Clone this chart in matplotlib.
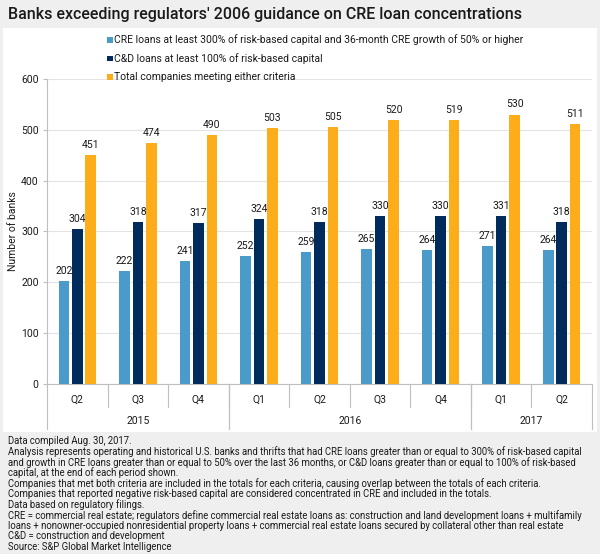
import matplotlib
matplotlib.use("Agg")
import matplotlib.pyplot as plt
from matplotlib.patches import Rectangle
import numpy as np

quarters = ["Q2", "Q3", "Q4", "Q1", "Q2", "Q3", "Q4", "Q1", "Q2"]
years = ["2015", "2016", "2017"]
year_spans = [(0, 3), (3, 7), (7, 9)]  # category index ranges per year

cre = [202, 222, 241, 252, 259, 265, 264, 271, 264]
cd = [304, 318, 317, 324, 318, 330, 330, 331, 318]
total = [451, 474, 490, 503, 505, 520, 519, 530, 511]

series_names = [
    "CRE loans at least 300% of risk-based capital and 36-month CRE growth of 50% or higher",
    "C&D loans at least 100% of risk-based capital",
    "Total companies meeting either criteria",
]

notes = [
    "Data compiled Aug. 30, 2017.",
    "Analysis represents operating and historical U.S. banks and thrifts that had CRE loans greater than or equal to 300% of risk-based capital",
    "and growth in CRE loans greater than or equal to 50% over the last 36 months, or C&D loans greater than or equal to 100% of risk-based",
    "capital, at the end of each period shown.",
    "Companies that met both criteria are included in the totals for each criteria, causing overlap between the totals of each criteria.",
    "Companies that reported negative risk-based capital are considered concentrated in CRE and included in the totals.",
    "Data based on regulatory filings.",
    "CRE = commercial real estate; regulators define commercial real estate loans as: construction and land development loans + multifamily",
    "loans + nonowner-occupied nonresidential property loans + commercial real estate loans secured by collateral other than real estate",
    "C&D = construction and development",
    "Source: S&P Global Market Intelligence",
]

COLORS = ["#4a9bc9", "#002b5c", "#fdad1a"]
BG = "#efefef"
GRID = "#e3e3e3"
AXIS = "#bfbfbf"
TXT = "#1a1a1a"

plt.rcParams["font.family"] = ["Roboto", "DejaVu Sans"]

W, H = 600, 554
fig = plt.figure(figsize=(W / 100, H / 100), dpi=100, facecolor=BG)

# white chart panel
fig.patches.append(Rectangle((3 / W, 1 - 432 / H), 594 / W, 404 / H,
                             transform=fig.transFigure, facecolor="white",
                             edgecolor="none", zorder=-10))

fig.text(8 / W, 1 - 14 / H, "Banks exceeding regulators' 2006 guidance on CRE loan concentrations",
         fontsize=11.5, fontweight="medium", color=TXT, va="center", ha="left")

ax = fig.add_axes([47 / W, 1 - 384 / H, 545 / W, 305 / H])
ax.set_facecolor("white")

x = np.arange(len(quarters))
bw = 0.175
step = 0.222
for i, (vals, col) in enumerate(zip([cre, cd, total], COLORS)):
    xs = x + (i - 1) * step
    ax.bar(xs, vals, width=bw, color=col, zorder=3)
    for xi, v in zip(xs, vals):
        ax.text(xi, v + 10, str(v), ha="center", va="bottom", fontsize=7.5, color=TXT)

ax.set_xlim(-0.5, len(quarters) - 0.5)
ax.set_ylim(0, 600)
ax.set_yticks(range(0, 601, 100))
ax.tick_params(axis="y", labelsize=7.5, colors=TXT, length=3, color=AXIS, pad=3)
ax.set_xticks([])
ax.grid(axis="y", color=GRID, linewidth=0.8, zorder=0)
for s in ["top", "right"]:
    ax.spines[s].set_visible(False)
ax.spines["left"].set_color(AXIS)
ax.spines["bottom"].set_color(AXIS)
ax.set_ylabel("Number of banks", fontsize=7.5, color=TXT, labelpad=2)

# two-level category axis
tr = ax.get_xaxis_transform()
for i, q in enumerate(quarters):
    ax.text(i, -0.053, q, transform=tr, ha="center", va="center", fontsize=7.5, color=TXT)
for b in range(1, len(quarters)):
    ax.plot([b - 0.5, b - 0.5], [0, -0.075], transform=tr, color=AXIS, lw=0.8, clip_on=False)
for yr, (a, b) in zip(years, year_spans):
    ax.text((a + b - 1) / 2, -0.121, yr, transform=tr, ha="center", va="center", fontsize=7.5, color=TXT)
    for edge in (a, b):
        ax.plot([edge - 0.5, edge - 0.5], [0, -0.147], transform=tr, color=AXIS, lw=0.8, clip_on=False)

# legend rows
for k, (name, col) in enumerate(zip(series_names, COLORS)):
    yy = 1 - (40 + k * 18.5) / H
    fig.patches.append(Rectangle((107 / W, yy - 2.8 / H), 5.5 / W, 5.5 / H,
                                 transform=fig.transFigure, facecolor=col, edgecolor="none"))
    fig.text(114 / W, yy, name, fontsize=7.5, color=TXT, va="center", ha="left")

# footnotes
for k, line in enumerate(notes):
    fig.text(8 / W, 1 - (441 + k * 10.6) / H, line, fontsize=6.85, color=TXT, va="center", ha="left")

fig.savefig("out.png", dpi=100, facecolor=BG)
